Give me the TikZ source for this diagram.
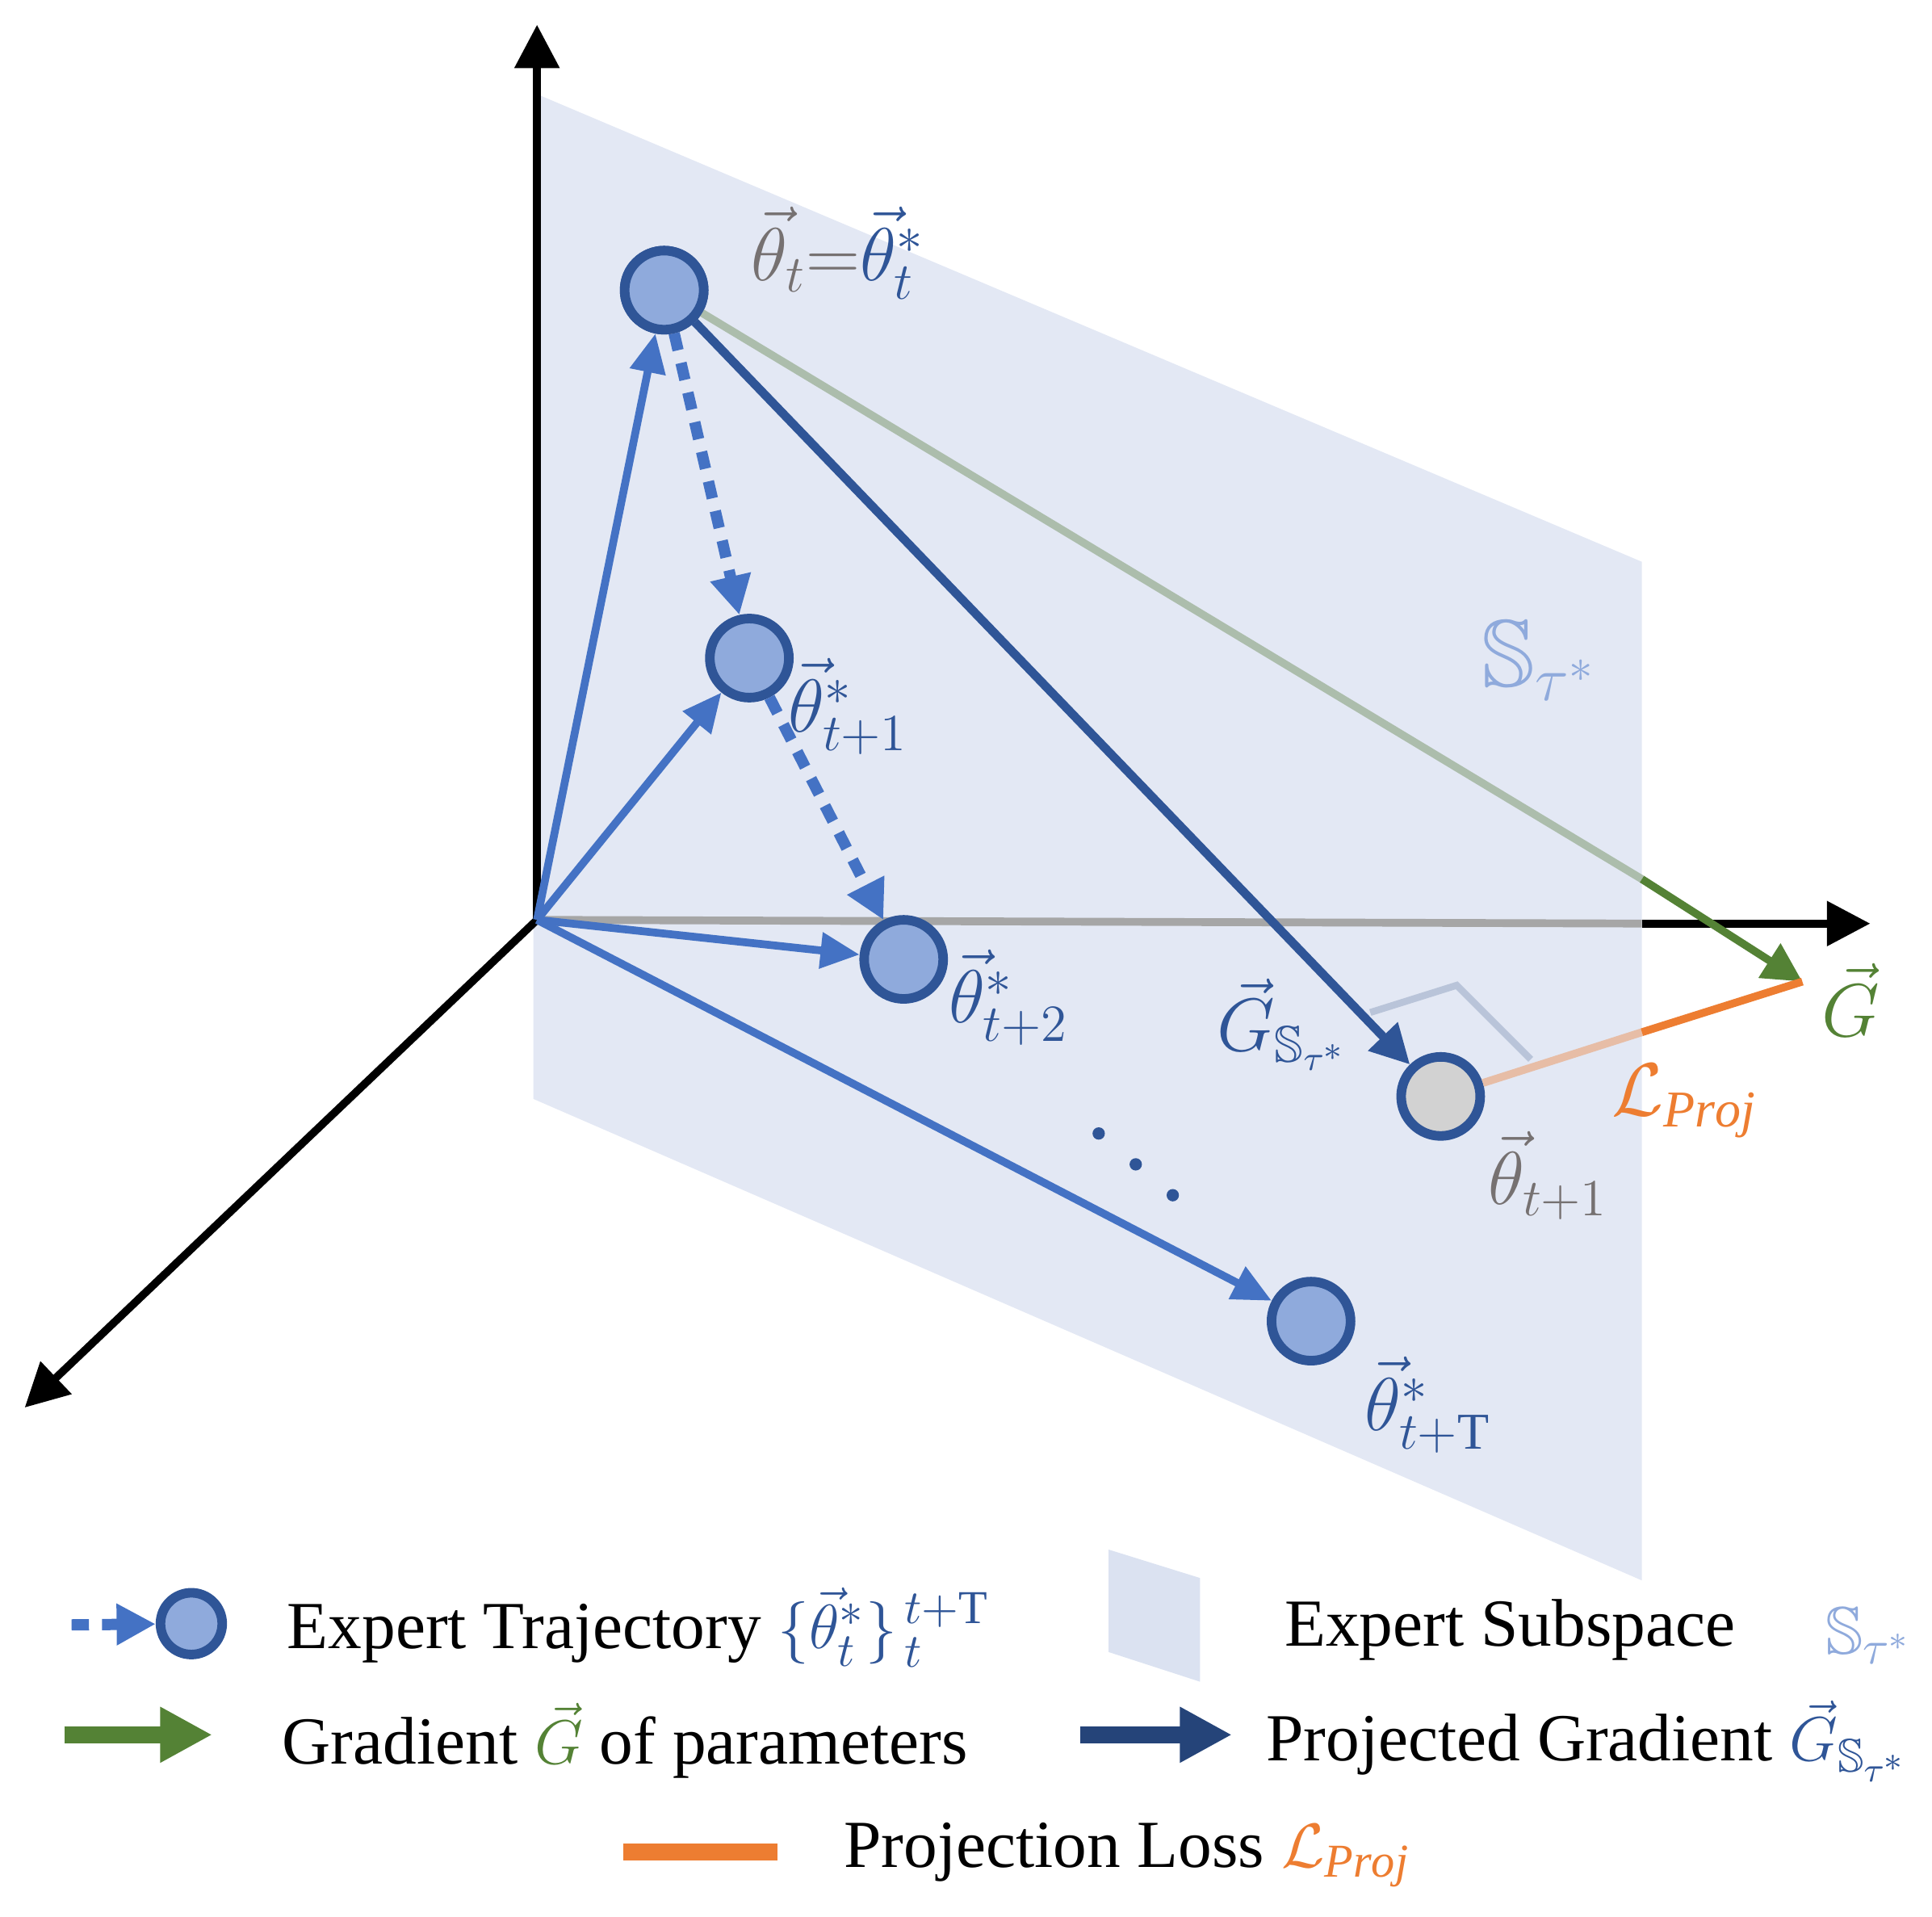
\documentclass[tikz,border=0pt]{standalone}
\usepackage{amssymb}
\usepackage{fontspec}
\setmainfont{Liberation Serif}
\usetikzlibrary{arrows.meta}
\definecolor{bl}{HTML}{4472C4}
\definecolor{dbl}{HTML}{2F5597}
\definecolor{nf}{HTML}{8FAADC}
\definecolor{gn}{HTML}{548235}
\definecolor{og}{HTML}{ED7D31}
\definecolor{gy}{HTML}{767171}
\definecolor{pl}{HTML}{E3E8F4}
\begin{document}
\begin{tikzpicture}[x=0.01cm,y=-0.01cm,
  ax/.style={line width=1.8pt,-{Triangle[length=10pt,width=10pt]}},
  ba/.style={bl,line width=1.8pt,-{Triangle[length=9pt,width=8pt]}},
  dot/.style={bl,line width=2.6pt,dash pattern=on 4pt off 3pt,-{Triangle[length=9pt,width=9pt]}},
  pt/.style={circle,draw=dbl,fill=nf,line width=2.2pt,minimum size=0.64cm,inner sep=0pt},
  lab/.style={font=\fontsize{17}{20}\selectfont,anchor=west,inner sep=0pt},
  leg/.style={font=\fontsize{15.5}{19}\selectfont,anchor=west,inner sep=0pt}]
\useasboundingbox (0,0) rectangle (1565,1552);
% plane
\fill[pl] (432,75) -- (1330,455) -- (1330,1280) -- (432,890) -- cycle;
% axes
\coordinate (O) at (435,745);
\coordinate (Ytip) at (435,20);
\coordinate (Xtip) at (1515,748);
\coordinate (Xp) at (1330,748);
\coordinate (Ztip) at (20,1140);
\draw[ax] (O) -- (Ytip);
\draw[line width=1.8pt,gray!70] (O) -- (Xp);
\draw[ax] (Xp) -- (Xtip);
\draw[ax] (O) -- (Ztip);
% nodes
\node[pt] (t0) at (538,235) {};
\node[pt] (t1) at (607,533) {};
\node[pt] (t2) at (732,777) {};
\node[pt] (tT) at (1062,1070) {};
\node[pt,fill=gray!35] (tn) at (1167,888) {};
\coordinate (G) at (1460,795);
\coordinate (Gp) at (1330,712);
\coordinate (Lp) at (1330,836);
% green gradient
\draw[line width=1.8pt,gn!35!pl!90!gray] (t0.center) -- (Gp);
\draw[gn,line width=1.8pt,-{Triangle[length=9pt,width=9pt]}] (Gp) -- (G);
% orange
\draw[line width=1.8pt,og!40!pl] (tn) -- (Lp);
\draw[line width=1.8pt,og] (Lp) -- (G);
% right angle
\coordinate (r1) at (1110,820); \coordinate (r2) at (1180,798); \coordinate (r3) at (1240,858);
\draw[line width=1.6pt,nf!70!gray!60] (r1) -- (r2) -- (r3);
% arrows
\draw[ba] (O) -- (t0);
\draw[ba] (O) -- (t1);
\draw[ba] (O) -- (t2);
\draw[ba] (O) -- (tT);
\draw[dot] (t0) -- (t1);
\draw[dot] (t1) -- (t2);
\draw[dbl,line width=2pt,-{Triangle[length=9pt,width=9pt]}] (t0) -- (tn);
\node[pt] at (t0) {};
% dots
\foreach \p/\n in {{(890,918)}/d1,{(920,943)}/d2,{(950,968)}/d3}
  \fill[dbl] \p circle (5);
% labels
\node[lab] (l0) at (608,205) {$\color{gy}\vec\theta_t\mathord{=}\color{dbl}\vec\theta_t^*$};
\node[lab,text=dbl] (l1) at (638,572) {$\vec\theta_{t+1}^*$};
\node[lab,text=dbl] (l2) at (768,808) {$\vec\theta_{t+2}^*$};
\node[lab,text=dbl] (lT) at (1105,1138) {$\vec\theta_{t+\mathrm{T}}^*$};
\node[lab,text=gy] (ln) at (1205,952) {$\vec\theta_{t+1}$};
\node[lab,text=gn] (lG) at (1475,810) {$\vec G$};
\node[lab,text=dbl] (lGs) at (985,830) {$\vec G_{\mathbb{S}_{\tau^*}}$};
\node[lab,text=og] (lL) at (1305,892) {$\mathcal{L}_{\mathit{Proj}}$};
\node[lab,text=nf,font=\fontsize{22}{26}\selectfont] (lS) at (1200,535) {$\mathbb{S}_{\tau^*}$};
% legend
\coordinate (a1) at (58,1316);
\node[pt,minimum size=0.5cm] (c1) at (155,1315) {};
\draw[dot] (a1) -- (c1);
\node[leg] at (232,1318) {Expert Trajectory \textcolor{dbl}{$\{\vec\theta_t^*\}_{\,t}^{\,t+\mathrm{T}}$}};
\fill[pl!90!nf] (898,1255) -- (972,1278) -- (972,1362) -- (898,1338) -- cycle;
\node[leg] at (1040,1320) {Expert Subspace};
\node[leg,text=nf] at (1478,1325) {$\mathbb{S}_{\tau^*}$};
\coordinate (g1) at (52,1405); \coordinate (g2) at (172,1405);
\draw[gn,line width=4pt,-{Triangle[length=12pt,width=12pt]}] (g1) -- (g2);
\node[leg] at (228,1410) {Gradient \textcolor{gn}{$\vec G$} of parameters};
\coordinate (p1) at (875,1405); \coordinate (p2) at (998,1405);
\draw[dbl!80!black,line width=4pt,-{Triangle[length=12pt,width=12pt]}] (p1) -- (p2);
\node[leg] at (1025,1410) {Projected Gradient \textcolor{dbl}{$\vec G_{\mathbb{S}_{\tau^*}}$}};
\coordinate (o1) at (505,1500); \coordinate (o2) at (630,1500);
\draw[og,line width=4pt] (o1) -- (o2);
\node[leg] at (683,1502) {Projection Loss \textcolor{og}{$\mathcal{L}_{\mathit{Proj}}$}};
\end{tikzpicture}
\end{document}
